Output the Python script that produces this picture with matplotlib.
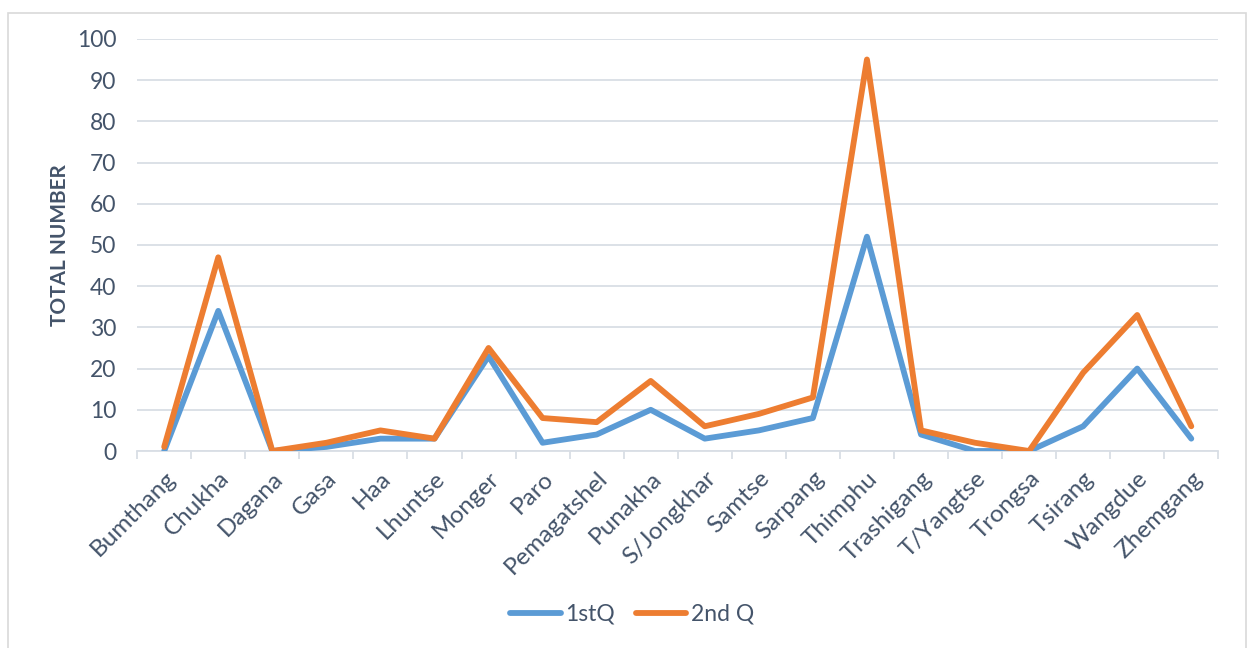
import numpy as np
import matplotlib.pyplot as plt
from matplotlib.patches import Rectangle

plt.rcParams['font.family'] = ['Lato', 'DejaVu Sans']

districts = ['Bumthang', 'Chukha', 'Dagana', 'Gasa', 'Haa', 'Lhuntse', 'Monger',
             'Paro', 'Pemagatshel', 'Punakha', 'S/Jongkhar', 'Samtse', 'Sarpang',
             'Thimphu', 'Trashigang', 'T/Yangtse', 'Trongsa', 'Tsirang', 'Wangdue',
             'Zhemgang']
q1 = [0, 34, 0, 1, 3, 3, 23, 2, 4, 10, 3, 5, 8, 52, 4, 0, 0, 6, 20, 3]
q2 = [1, 47, 0, 2, 5, 3, 25, 8, 7, 17, 6, 9, 13, 95, 5, 2, 0, 19, 33, 6]
yticks = np.arange(0, 101, 10)

text_col = '#44546A'
grid_col = '#D9DEE5'

fig = plt.figure(figsize=(12.47, 6.48), dpi=100)
ax = fig.add_axes([0.110, 0.304, 0.867, 0.636])

x = np.arange(len(districts))
ax.plot(x, q1, color='#5B9BD5', linewidth=4.2, solid_joinstyle='round',
        solid_capstyle='round', label='1stQ', zorder=3)
ax.plot(x, q2, color='#ED7D31', linewidth=4.2, solid_joinstyle='round',
        solid_capstyle='round', label='2nd Q', zorder=4)

ax.set_xlim(-0.5, len(districts) - 0.5)
ax.set_ylim(0, 100)
ax.set_yticks(yticks)
ax.yaxis.grid(True, color=grid_col, linewidth=1.3)
ax.set_axisbelow(True)

# category ticks sit between labels, like Excel
ax.set_xticks(x)
ax.set_xticklabels(districts, rotation=45, ha='right', rotation_mode='anchor')
ax.set_xticks(np.arange(-0.5, len(districts), 1), minor=True)
ax.tick_params(axis='x', which='major', length=0, pad=12, labelsize=17.5, labelcolor=text_col)
ax.tick_params(axis='x', which='minor', length=6, width=1.3, color=grid_col)
ax.tick_params(axis='y', length=0, pad=15, labelsize=16.5, labelcolor=text_col)

for s in ['top', 'right', 'left']:
    ax.spines[s].set_visible(False)
ax.spines['bottom'].set_color(grid_col)
ax.spines['bottom'].set_linewidth(1.3)

ax.set_ylabel('TOTAL NUMBER', fontsize=15, fontweight='bold', color=text_col)
ax.yaxis.set_label_coords(-0.062, 0.5)

leg = fig.legend(loc='center', bbox_to_anchor=(0.507, 0.052), ncol=2, frameon=False,
                 fontsize=16.5, handlelength=2.2, handletextpad=0.2, columnspacing=0.9)
for t in leg.get_texts():
    t.set_color(text_col)

# chart border
fig.patches.append(Rectangle((8 / 1247, -0.01), 1237.5 / 1247, 0.995 - 10 / 648 + 0.01,
                             transform=fig.transFigure, fill=False,
                             edgecolor='#D9D9D9', linewidth=1.2))

fig.savefig('out.png', dpi=100)
